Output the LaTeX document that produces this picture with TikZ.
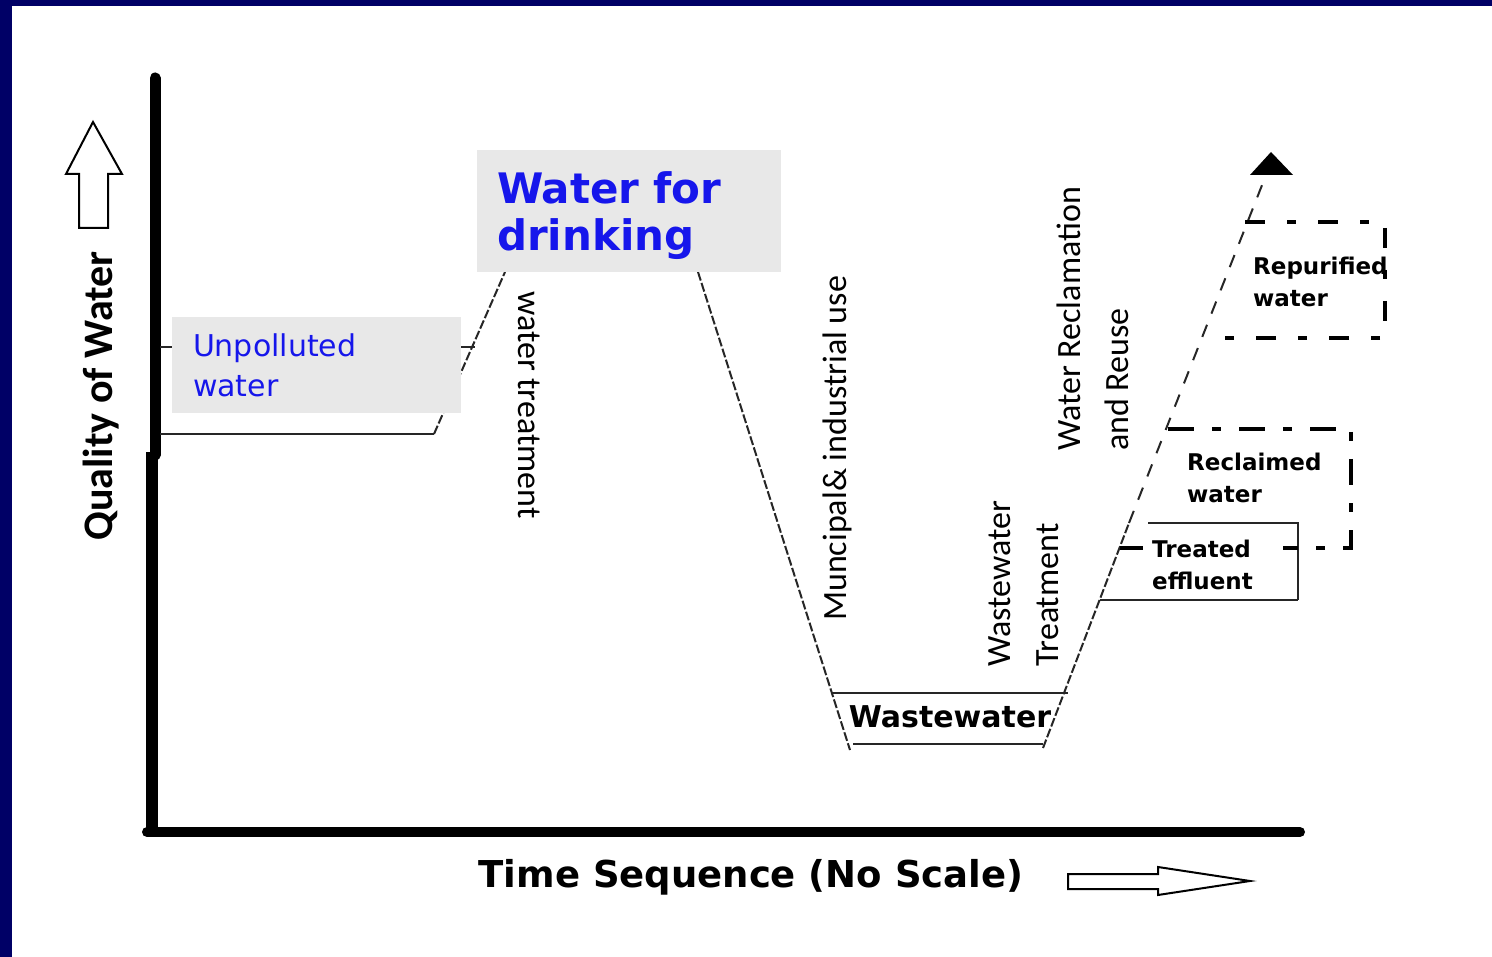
\documentclass[tikz,border=0pt]{standalone}
\usepackage{fontspec}
\usetikzlibrary{positioning}
\newfontfamily\carlito{Carlito}
\newfontfamily\dejavu{DejaVu Sans}
\definecolor{SlideNavy}{RGB}{0,0,102}
\definecolor{TitleBlue}{RGB}{22,22,235}
\definecolor{BoxGray}{RGB}{232,232,232}
\tikzset{
	axis/.style={draw=black,line width=11pt,line cap=round},
	curve/.style={draw=black!85,line width=2pt},
	dense/.style={curve,dash pattern=on 9pt off 2.5pt},
	sparse/.style={curve,dash pattern=on 13pt off 12pt},
	gbox/.style={fill=BoxGray,text=TitleBlue,align=left,inner ysep=0pt},
	vlbl/.style={font=\carlito\fontsize{34}{48}\selectfont,rotate=90,anchor=west,align=left,inner sep=0pt},
	blbl/.style={font=\dejavu\bfseries\fontsize{23}{32}\selectfont,align=left,anchor=west,inner sep=0pt},
	hollow/.style={draw=black,line width=2pt,fill=white,line join=miter},
	dashbox/.style={draw=black,line width=4.5pt,dash pattern=on 26pt off 18pt on 9pt off 18pt},
}
\begin{document}
\begin{tikzpicture}[x=1pt,y=-1pt]
	\useasboundingbox (0,0) rectangle (1492,957);
	\fill[white] (0,0) rectangle (1492,957);
	\fill[SlideNavy] (0,0) rectangle (12,957);
	\fill[SlideNavy] (0,0) rectangle (1492,6);
	% axes
	\draw[axis] (155,78) -- (155,455);
	\draw[axis,line width=12pt,line cap=butt] (152,452) -- (152,834);
	\draw[axis,line width=10pt] (147,832) -- (1300,832);
	% hollow arrows
	\draw[hollow] (79,228) -- (79,174) -- (66,174) -- (93,122) -- (122,174) -- (108,174) -- (108,228) -- cycle;
	\draw[hollow] (1068,874) -- (1158,874) -- (1158,867) -- (1250,881) -- (1158,895) -- (1158,889) -- (1068,889) -- cycle;
	% quality path
	\coordinate (u1) at (160,347);
	\coordinate (u2) at (475,347);
	\coordinate (p0) at (160,434);
	\coordinate (p1) at (434,434);
	\coordinate (p2) at (505,272);
	\coordinate (p3) at (698,272);
	\coordinate (p4) at (850,750);
	\coordinate (w1) at (832,693);
	\coordinate (w2) at (1068,693);
	\coordinate (w3) at (853,744);
	\coordinate (w4) at (1043,744);
	\coordinate (r0) at (1043,748);
	\coordinate (r1) at (1129,523);
	\coordinate (r2) at (1266,175);
	\draw[curve] (u1) -- (u2);
	\draw[curve] (p0) -- (p1);
	\draw[dense] (p1) -- (p2);
	\draw[dense] (p3) -- (p4);
	\draw[curve] (w1) -- (w2);
	\draw[curve] (w3) -- (w4);
	\draw[dense] (r0) -- (r1);
	\draw[sparse] (r1) -- (r2);
	\fill[black] (1250,175) -- (1271,152) -- (1293,175) -- cycle;
	% treated effluent box
	\draw[curve] (1148,523) -- (1298,523) -- (1298,600);
	\draw[curve] (1100,600) -- (1298,600);
	% reclaimed and repurified boxes
	\draw[dashbox] (1168,429) -- (1351,429) -- (1351,548) -- (1283,548);
	\draw[draw=black,line width=4.5pt] (1120,548) -- (1143,548);
	\draw[dashbox,dash pattern=on 20pt off 22pt on 9pt off 22pt] (1245,222) -- (1385,222) -- (1385,338) -- (1203,338);
	% gray boxes
	\node[gbox,minimum width=289pt,minimum height=96pt,text width=247pt,inner xsep=21pt,
		font=\dejavu\fontsize{30}{40}\selectfont] (unpol) at (316.5,365) {Unpolluted\\water};
	\node[gbox,minimum width=304pt,minimum height=122pt,text width=264pt,inner xsep=20pt,
		font=\dejavu\bfseries\fontsize{42}{47}\selectfont] (drink) at (629,211) {\rule{0pt}{41pt}Water for\\drinking};
	% labels
	\node[font=\carlito\bfseries\fontsize{42}{48}\selectfont,rotate=90] (qual) at (101,396) {Quality of Water};
	\node[font=\dejavu\bfseries\fontsize{37}{44}\selectfont] (time) at (751,877) {Time Sequence (No Scale)};
	\node[vlbl,rotate=180] (treat) at (529,291) {water treatment};
	\node[vlbl] (muni) at (837,621) {Muncipal\& industrial use};
	\node[vlbl] (wwt) at (1024,667) {Wastewater\\Treatment};
	\node[vlbl] (recl) at (1093,451) {Water Reclamation\\and Reuse};
	\node[font=\dejavu\bfseries\fontsize{30}{36}\selectfont] (waste) at (950,717) {Wastewater};
	\node[blbl] (repur) at (1253,282) {Repurified\\water};
	\node[blbl] (reclw) at (1187,478) {Reclaimed\\water};
	\node[blbl] (treff) at (1152,565) {Treated\\effluent};
\end{tikzpicture}
\end{document}
